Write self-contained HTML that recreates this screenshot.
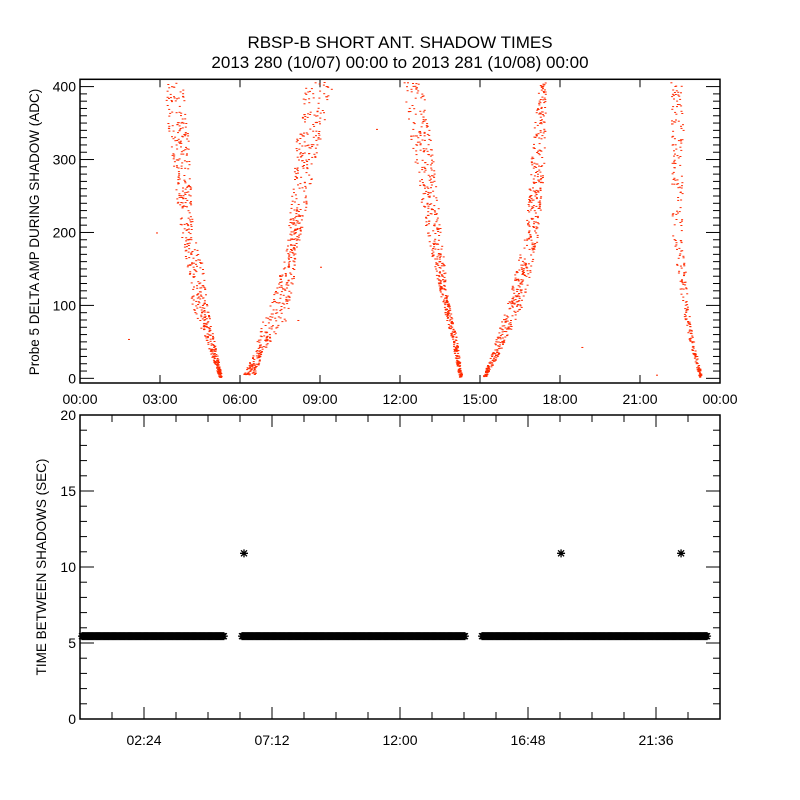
<!DOCTYPE html>
<html><head><meta charset="utf-8"><style>
html,body{margin:0;padding:0;background:#fff;}
svg{display:block;font-family:"Liberation Sans",sans-serif;}
</style></head><body>
<svg id="chart" width="800" height="800" viewBox="0 0 800 800">
<rect x="0" y="0" width="800" height="800" fill="#fff"/>
<text x="400" y="48" font-size="17" text-anchor="middle">RBSP-B SHORT ANT. SHADOW TIMES</text>
<text x="400" y="68" font-size="17" text-anchor="middle">2013 280 (10/07) 00:00 to 2013 281 (10/08) 00:00</text>
<g id="topPanel"></g>
<g id="botPanel"></g>
</svg>
<script>
// ---- Top panel data (hours, ADC) ----
const b1Val=[407,309,203,153,98,52,2];
const b1Lo=[3.1,3.4,3.75,4.0,4.2,4.7,5.2];
const b1Hi=[3.86,4.1,4.2,4.6,4.76,5.0,5.3];
const b2Val=[5,35,80,112,171,263,331,407];
const b2Lo=[6.1,6.5,6.8,7.2,7.7,7.95,8.1,8.35];
const b2Hi=[6.55,6.8,7.7,7.9,8.1,8.6,9.0,9.5];
const b3Val=[407,309,203,103,57,2];
const b3Lo=[12.1,12.45,12.97,13.57,13.9,14.2];
const b3Hi=[12.8,13.2,13.5,13.8,14.1,14.3];
const b4Val=[3,35,103,203,309,407];
const b4Lo=[15.1,15.4,16.0,16.7,16.9,17.2];
const b4Hi=[15.2,15.7,16.6,17.2,17.4,17.45];
const b5Val=[407,196,93,57,2];
const b5Lo=[22.1,22.2,22.6,22.8,23.2];
const b5Hi=[22.6,22.6,22.8,22.95,23.3];
const outT=[1.8,2.85,9.0,11.1,8.15,18.8,21.6];
const outV=[54,200,153,342,80,43,5];
const topXTicks=["00:00","03:00","06:00","09:00","12:00","15:00","18:00","21:00","00:00"];
const topYTicks=[0,100,200,300,400];
// ---- Bottom panel data ----
const segStart=[0.0,6.0,15.0];
const segEnd=[5.36,14.36,23.44];
const segVal=[5.45,5.45,5.45];
const starT=[6.15,18.04,22.54];
const starV=[10.9,10.9,10.9];
const botXTicks=["02:24","07:12","12:00","16:48","21:36"];
const botYTicks=[0,5,10,15,20];

const NS="http://www.w3.org/2000/svg";
function mk(p,tag,at){const e=document.createElementNS(NS,tag);for(const k in at)e.setAttribute(k,at[k]);p.appendChild(e);return e;}
const X0=80,X1=720;
const xs=h=>X0+h/24*(X1-X0);
const TY0=383,TY1=79.3,TV0=-6.4,TV1=410;
const ty=v=>TY0+(v-TV0)/(TV1-TV0)*(TY1-TY0);
const BY0=719,BY1=415;
const by=v=>BY0+v/20*(BY1-BY0);

const topG=document.getElementById('topPanel');
const botG=document.getElementById('botPanel');

// top frame
const tf=mk(topG,'rect',{x:X0,y:TY1,width:X1-X0,height:TY0-TY1,fill:'none',stroke:'#000','stroke-width':1.5});


for(let i=0;i<topXTicks.length;i++){
  const x=xs(i*3);
  mk(topG,'line',{x1:x,y1:TY0,x2:x,y2:TY0-8,stroke:'#000'});
  mk(topG,'line',{x1:x,y1:TY1,x2:x,y2:TY1+8,stroke:'#000'});
  const t=mk(topG,'text',{x:x,y:404,'font-size':14,'text-anchor':'middle'});
  t.textContent=topXTicks[i];
  
  
}
for(let v=0;v<=400;v+=10){
  const y=ty(v),L=(v%100===0)?14:7;
  mk(topG,'line',{x1:X0,y1:y,x2:X0+L,y2:y,stroke:'#000'});
  mk(topG,'line',{x1:X1,y1:y,x2:X1-L,y2:y,stroke:'#000'});
}
for(const v of topYTicks){
  const t=mk(topG,'text',{x:76,y:ty(v)+5,'font-size':14,'text-anchor':'end'});
  t.textContent=String(v);
  
  
}
const tyt=mk(topG,'text',{x:0,y:0,'font-size':13.5,'text-anchor':'middle',transform:'translate(39,232) rotate(-90)'});
tyt.textContent='Probe 5 DELTA AMP DURING SHADOW (ADC)';



// seeded generator for scatter density
let seed=12345;
function rnd(){seed=(Math.imul(seed,1103515245)+12345)>>>0;return (seed>>>8)/16777216;}
function interp(arr,vals,v){
  for(let i=0;i<vals.length-1;i++){
    const a=vals[i],b=vals[i+1];
    if((v-a)*(v-b)<=0){const f=(v-a)/((b-a)||1);return arr[i]+f*(arr[i+1]-arr[i]);}
  }
  return arr[arr.length-1];
}
const branches=[[b1Val,b1Lo,b1Hi],[b2Val,b2Lo,b2Hi],[b3Val,b3Lo,b3Hi],[b4Val,b4Lo,b4Hi],[b5Val,b5Lo,b5Hi]];
const dotG=mk(topG,'g',{fill:'#ff2a00'});


branches.forEach((br,bi)=>{
  const vals=br[0],lo=br[1],hi=br[2];
  const vmin=Math.min(...vals),vmax=Math.max(...vals);
  const n=bi===4?260:520;
  for(let k=0;k<n;k++){
    const u=rnd();
    const v=vmin+(vmax-vmin)*Math.pow(u,1.4);
    const l=interp(lo,vals,v),h=interp(hi,vals,v);
    const t=l+(h-l)*rnd();
    const r=mk(dotG,'rect',{x:xs(t).toFixed(1),y:ty(v).toFixed(1),width:2,height:1});
    
    
  }
});
for(let i=0;i<outT.length;i++){
  const r=mk(dotG,'rect',{x:xs(outT[i]),y:ty(outV[i]),width:2,height:1});
  
  
}

// bottom frame
const bf=mk(botG,'rect',{x:X0,y:BY1,width:X1-X0,height:BY0-BY1,fill:'none',stroke:'#000','stroke-width':1.5});


for(let i=0;i<=20;i++){
  const x=xs(i*1.2),L=(i%4===2)?12:7;
  mk(botG,'line',{x1:x,y1:BY0,x2:x,y2:BY0-L,stroke:'#000'});
  mk(botG,'line',{x1:x,y1:BY1,x2:x,y2:BY1+L,stroke:'#000'});
}
for(let i=0;i<botXTicks.length;i++){
  const t=mk(botG,'text',{x:xs(2.4+i*4.8),y:745,'font-size':14,'text-anchor':'middle'});
  t.textContent=botXTicks[i];
  
  
}
for(let v=0;v<=20;v++){
  const y=by(v),L=(v%5===0)?14:7;
  mk(botG,'line',{x1:X0,y1:y,x2:X0+L,y2:y,stroke:'#000'});
  mk(botG,'line',{x1:X1,y1:y,x2:X1-L,y2:y,stroke:'#000'});
}
for(const v of botYTicks){
  const t=mk(botG,'text',{x:76,y:by(v)+5,'font-size':14,'text-anchor':'end'});
  t.textContent=String(v);
  
  
}
const byt=mk(botG,'text',{x:0,y:0,'font-size':13.5,'text-anchor':'middle',transform:'translate(46,567) rotate(-90)'});
byt.textContent='TIME BETWEEN SHADOWS (SEC)';



function star(g,cx,cy){
  const d=`M${cx-4} ${cy}H${cx+4}M${cx} ${cy-4}V${cy+4}M${cx-3} ${cy-3}L${cx+3} ${cy+3}M${cx-3} ${cy+3}L${cx+3} ${cy-3}`;
  return mk(g,'path',{d:d,stroke:'#000','stroke-width':1.3,fill:'none'});
}
const sg=mk(botG,'g',{});


for(let i=0;i<segStart.length;i++){
  const band=mk(sg,'g',{});
  
  
  for(let h=segStart[i];h<=segEnd[i];h+=0.04){
    star(band,xs(h)+2,by(segVal[i]));
  }
}
for(let i=0;i<starT.length;i++){
  const s=star(sg,xs(starT[i]),by(starV[i]));
  
  
}
</script>
</body></html>
